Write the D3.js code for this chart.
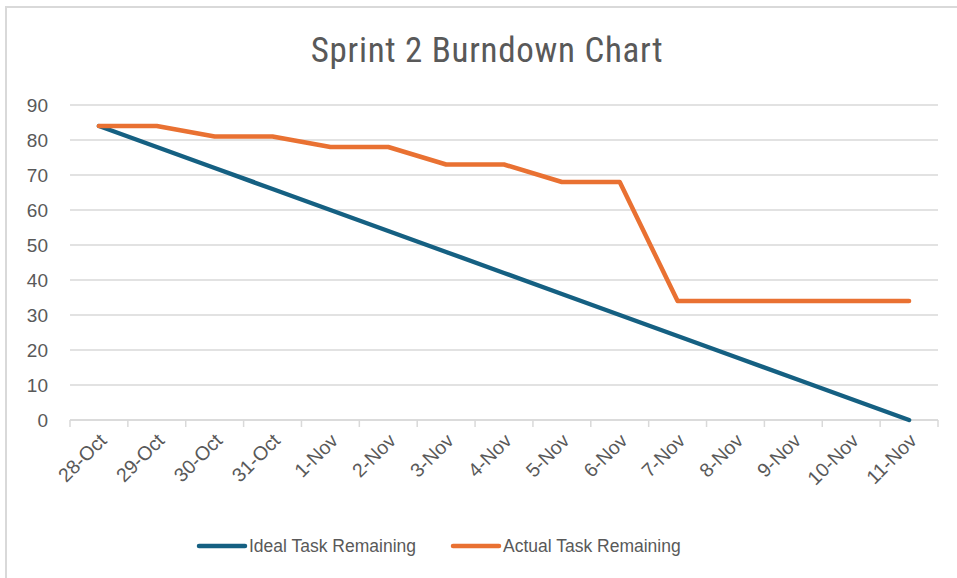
<!DOCTYPE html>
<html>
<head>
<meta charset="utf-8">
<script src="https://cdn.jsdelivr.net/npm/d3@7"></script>
<style>
  body { margin: 0; background: #fff; }
  text { fill: #595959; }
</style>
</head>
<body>
<div id="chart"></div>
<script>
// data
var dates = ["28-Oct", "29-Oct", "30-Oct", "31-Oct", "1-Nov", "2-Nov", "3-Nov", "4-Nov",
             "5-Nov", "6-Nov", "7-Nov", "8-Nov", "9-Nov", "10-Nov", "11-Nov"];
var ideal = [84, 78, 72, 66, 60, 54, 48, 42, 36, 30, 24, 18, 12, 6, 0];
var actual = [84, 84, 81, 81, 78, 78, 73, 73, 68, 68, 34, 34, 34, 34, 34];
var yTicks = [0, 10, 20, 30, 40, 50, 60, 70, 80, 90];
var seriesNames = ["Ideal Task Remaining", "Actual Task Remaining"];
var colors = ["#156082", "#E97132"];

var W = 957, H = 578;
var margin = {top: 105, right: 19, bottom: 158, left: 70},
    width = W - margin.left - margin.right,
    height = H - margin.top - margin.bottom;

var svg = d3.select("#chart")
  .append("svg")
    .attr("width", W)
    .attr("height", H);

// outer frame
svg.append("rect")
  .attr("x", 6).attr("y", 7)
  .attr("width", W + 10).attr("height", H + 10)
  .attr("fill", "none")
  .attr("stroke", "#d9d9d9")
  .attr("stroke-width", 2);

svg.append("text")
  .attr("x", 487)
  .attr("y", 62)
  .attr("text-anchor", "middle")
  .style("font-family", "'Roboto Condensed', 'Liberation Sans', sans-serif")
  .style("font-size", "35px")
  .style("letter-spacing", "0.7px")
  .text("Sprint 2 Burndown Chart");

var g = svg.append("g")
  .attr("transform", "translate(" + margin.left + "," + margin.top + ")");

var x = d3.scaleBand()
  .domain(dates)
  .range([0, width]);

var y = d3.scaleLinear()
  .domain([0, 90])
  .range([height, 0]);

// gridlines
g.selectAll(".grid")
  .data(yTicks)
  .enter()
  .append("line")
    .attr("x1", 0)
    .attr("x2", width)
    .attr("y1", function(d) { return y(d); })
    .attr("y2", function(d) { return y(d); })
    .attr("stroke", "#d9d9d9")
    .attr("stroke-width", 1.5);

// y labels
var yAxis = g.append("g")
  .call(d3.axisLeft(y).tickValues(yTicks).tickSize(0).tickPadding(22));
yAxis.select(".domain").remove();
yAxis.selectAll("text")
  .style("font-family", "'Liberation Sans', Arial, sans-serif")
  .style("font-size", "19px")
  .attr("fill", "#595959");

// x axis with category boundary ticks
var xAxis = g.append("g")
  .attr("transform", "translate(0," + height + ")");
xAxis.append("line")
  .attr("x1", 0).attr("x2", width)
  .attr("stroke", "#d9d9d9").attr("stroke-width", 1.5);
var bounds = dates.map(function(d) { return x(d); }).concat([width]);
xAxis.selectAll(".tk")
  .data(bounds)
  .enter()
  .append("line")
    .attr("x1", function(d) { return d; })
    .attr("x2", function(d) { return d; })
    .attr("y1", 0).attr("y2", 7)
    .attr("stroke", "#d9d9d9").attr("stroke-width", 1.5);
xAxis.selectAll(".lbl")
  .data(dates)
  .enter()
  .append("text")
    .attr("transform", function(d) {
      return "translate(" + (x(d) + x.bandwidth() / 2 + 4) + ",17)rotate(-45)";
    })
    .attr("text-anchor", "end")
    .attr("dy", "0.35em")
    .style("font-family", "'Liberation Sans', Arial, sans-serif")
    .style("font-size", "19.5px")
    .text(function(d) { return d; });

// lines
var line = d3.line()
  .x(function(d, i) { return x(dates[i]) + x.bandwidth() / 2; })
  .y(function(d) { return y(d); });

[ideal, actual].forEach(function(s, i) {
  g.append("path")
    .datum(s)
    .attr("fill", "none")
    .attr("stroke", colors[i])
    .attr("stroke-width", 4.5)
    .attr("stroke-linecap", "round")
    .attr("stroke-linejoin", "round")
    .attr("d", line);
});

// legend
var legendX = [199, 453];
seriesNames.forEach(function(name, i) {
  svg.append("line")
    .attr("x1", legendX[i]).attr("x2", legendX[i] + 46)
    .attr("y1", 546).attr("y2", 546)
    .attr("stroke", colors[i])
    .attr("stroke-width", 4.5)
    .attr("stroke-linecap", "round");
  svg.append("text")
    .attr("x", legendX[i] + 50)
    .attr("y", 546)
    .attr("dy", "0.35em")
    .style("font-family", "'Liberation Sans', Arial, sans-serif")
    .style("font-size", "17.5px")
    .text(name);
});
</script>
</body>
</html>
